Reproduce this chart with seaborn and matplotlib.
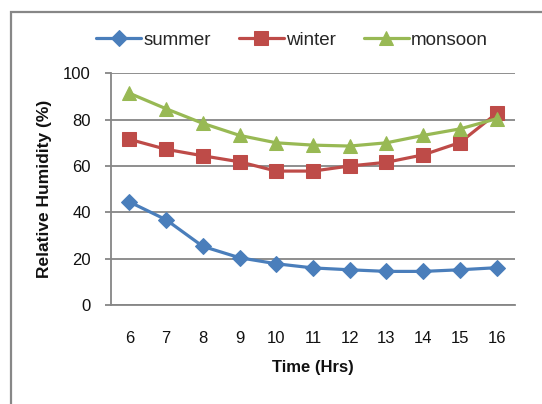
import matplotlib
matplotlib.use("Agg")
import matplotlib.pyplot as plt
import matplotlib.patches as mpatches
import seaborn as sns
import pandas as pd

hours = [6, 7, 8, 9, 10, 11, 12, 13, 14, 15, 16]
summer = [44.5, 36.8, 25.3, 20.4, 17.8, 16.0, 15.2, 14.5, 14.5, 15.2, 16.1]
winter = [71.5, 67.2, 64.4, 61.8, 57.8, 57.8, 60.0, 61.6, 64.8, 70.1, 82.7]
monsoon = [91.4, 84.7, 78.4, 73.2, 70.0, 69.0, 68.6, 70.0, 73.2, 76.0, 80.4]
series_names = ["summer", "winter", "monsoon"]
ytick_vals = [0, 20, 40, 60, 80, 100]

sns.set_style("white")
plt.rcParams["font.family"] = ["Liberation Sans", "DejaVu Sans"]

df = pd.DataFrame({
    "Time": hours * 3,
    "RH": summer + winter + monsoon,
    "Season": [s for s in series_names for _ in hours],
})

colors = {"summer": "#4A7EBB", "winter": "#BE4B48", "monsoon": "#98B954"}
markers = {"summer": "D", "winter": "s", "monsoon": "^"}
msizes = {"summer": 8, "winter": 9.5, "monsoon": 10.5}

fig = plt.figure(figsize=(5.42, 4.04), dpi=100)
ax = fig.add_axes([111 / 542, 1 - 305 / 404, (515 - 111) / 542, (305 - 73.3) / 404])

for name in series_names:
    sub = df[df["Season"] == name]
    sns.lineplot(data=sub, x="Time", y="RH", ax=ax, color=colors[name],
                 marker=markers[name], markersize=msizes[name],
                 markeredgecolor=colors[name], linewidth=2.3, label=name,
                 zorder=3)

ax.set_xlim(5.5, 16.5)
ax.set_ylim(0, 100)
ax.set_xticks(hours)
ax.set_xticklabels([str(h) for h in hours])
ax.set_yticks(ytick_vals)
ax.grid(axis="y", color="#868686", linewidth=1.3)
ax.grid(axis="x", visible=False)
for side in ["top", "right"]:
    ax.spines[side].set_visible(False)
for side in ["left", "bottom"]:
    ax.spines[side].set_color("#868686")
    ax.spines[side].set_linewidth(1.3)
ax.tick_params(axis="y", length=4.5, width=1.3, color="#868686", pad=10,
               labelsize=12, labelcolor="#111111", left=True)
ax.tick_params(axis="x", length=0, pad=19, labelsize=12, labelcolor="#111111")
ax.set_xlabel("Time (Hrs)", fontsize=12, fontweight="bold", labelpad=10, color="#111111")
ax.set_ylabel("Relative Humidity (%)", fontsize=12.5, fontweight="bold", labelpad=8, color="#111111")

leg = ax.legend(loc="center", bbox_to_anchor=(292 / 542, 1 - 40 / 404),
                bbox_transform=fig.transFigure, ncol=3, frameon=False,
                fontsize=13.5, handlelength=2.4, handletextpad=0.1,
                columnspacing=1.5)

frame = mpatches.Rectangle((10.7 / 542, -0.2), 1.5, 1 - 12.3 / 404 + 0.2,
                           transform=fig.transFigure, fill=False,
                           edgecolor="#878787", linewidth=1.6, clip_on=False)
fig.patches.append(frame)

fig.savefig("out.png", dpi=100)
